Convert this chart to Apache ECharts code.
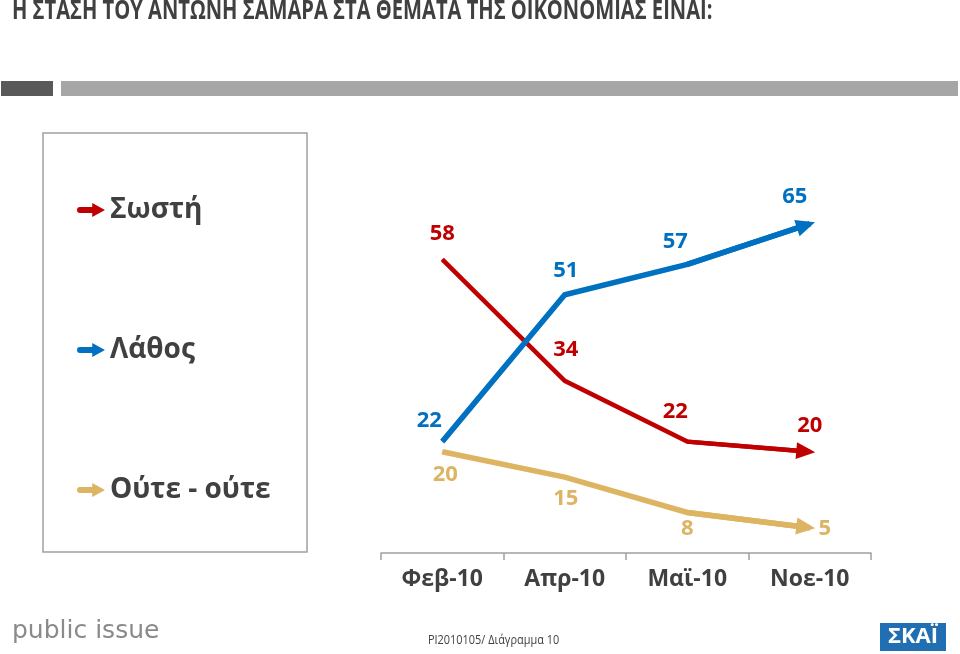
<!DOCTYPE html>
<html>
<head>
<meta charset="utf-8">
<script src="https://cdn.jsdelivr.net/npm/echarts@6/dist/echarts.min.js"></script>
<style>html,body{margin:0;padding:0;background:#fff}#c{width:960px;height:654px}</style>
</head>
<body>
<div id="c"></div>
<script>
const categories = ['Φεβ-10', 'Απρ-10', 'Μαϊ-10', 'Νοε-10'];
const seriesNames = ['Σωστή', 'Λάθος', 'Ούτε - ούτε'];
const correct = [58, 34, 22, 20];
const wrong = [22, 51, 57, 65];
const neither = [20, 15, 8, 5];
const titleText = 'Η ΣΤΑΣΗ ΤΟΥ ΑΝΤΩΝΗ ΣΑΜΑΡΑ ΣΤΑ ΘΕΜΑΤΑ ΤΗΣ ΟΙΚΟΝΟΜΙΑΣ ΕΙΝΑΙ:';
const footerText = 'PI2010105/ Διάγραμμα 10';

const colors = ['#C00000', '#0070C0', '#DDB462'];
const widths = [4.5, 5.5, 5.5];
// label offsets (styling) relative to point
const labelOffsets = [
  [[0, -26], [1, -31], [-12, -30], [0, -26]],
  [[-13, -21], [1, -24], [-12, -23], [-15, -27]],
  [[3, 23], [1, 22], [0, 16], [15, 1]]
];
const FONT = 'Open Sans';
const arrowIcon = 'path://M2.5,4 L15,4 L15,0 L28,7 L15,14 L15,10 L2.5,10 A3,3 0 0 1 2.5,4 Z';
const headPath = 'path://M10,0 L20,20 L0,20 Z';

const values = [correct, wrong, neither];
const series = values.map((arr, si) => ({
  name: seriesNames[si],
  type: 'line',
  data: arr.map((v, i) => ({
    value: v,
    label: { offset: labelOffsets[si][i] }
  })),
  symbol: 'circle',
  symbolSize: 1,
  showSymbol: true,
  lineStyle: { color: colors[si], width: widths[si], cap: 'butt', join: 'miter' },
  itemStyle: { color: colors[si] },
  label: {
    show: true, position: 'inside',
    color: colors[si], fontFamily: FONT, fontWeight: 'bold', fontSize: 22
  },
  emphasis: { disabled: true },
  animation: false,
  markLine: {
    silent: true,
    animation: false,
    symbol: ['none', headPath],
    symbolSize: [17, 19],
    symbolKeepAspect: false,
    symbolOffset: [0, [0, 4]],
    label: { show: false },
    lineStyle: { color: colors[si], width: widths[si], type: 'solid' },
    data: [[
      { coord: [categories[2], arr[2]] },
      { coord: [categories[3], arr[3]] }
    ]]
  }
}));

const chart = echarts.init(document.getElementById('c'), null, { renderer: 'canvas' });
chart.setOption({
  backgroundColor: '#fff',
  animation: false,
  color: colors,
  grid: { left: 381, width: 490, top: 148, height: 405 },
  xAxis: {
    type: 'category',
    data: categories,
    boundaryGap: true,
    axisLine: { lineStyle: { color: '#A0A0A0', width: 1.5 } },
    axisTick: { show: true, length: 7, lineStyle: { color: '#A0A0A0', width: 1.5 } },
    axisLabel: { color: '#404040', fontFamily: FONT, fontWeight: 'bold', fontSize: 23, margin: 15 }
  },
  yAxis: { type: 'value', min: 0, max: 80, show: false, splitLine: { show: false } },
  legend: {
    orient: 'vertical',
    left: 72, top: 187,
    icon: arrowIcon,
    itemWidth: 28, itemHeight: 14,
    itemGap: 104,
    selectedMode: false,
    textStyle: { color: '#404040', fontFamily: FONT, fontWeight: 'bold', fontSize: 28, lineHeight: 36 },
    data: seriesNames
  },
  series: series,
  graphic: [
    { type: 'text', x: 12, y: -2, scaleX: 0.745, style: { text: titleText, fill: '#404040', font: 'bold 27px "Open Sans"' } },
    { type: 'rect', shape: { x: 1, y: 81, width: 52, height: 15 }, style: { fill: '#595959' } },
    { type: 'rect', shape: { x: 61, y: 81, width: 897, height: 15 }, style: { fill: '#A6A6A6' } },
    { type: 'rect', shape: { x: 43, y: 133, width: 264, height: 419 }, style: { fill: 'none', stroke: '#A0A0A0', lineWidth: 1.5 } },
    { type: 'text', x: 12, y: 619, style: { text: 'public issue', fill: '#8A8A8A', font: '25px "DejaVu Sans"' } },
    { type: 'text', x: 428, y: 634, scaleX: 0.84, style: { text: footerText, fill: '#404040', font: '13px "Open Sans"' } },
    { type: 'rect', shape: { x: 880, y: 623, width: 66, height: 28 }, style: { fill: '#1F6FB2' } },
    { type: 'text', x: 913, y: 637, style: { text: 'ΣΚΑΪ', fill: '#fff', font: 'bold 22px "Open Sans"', align: 'center', verticalAlign: 'middle' } }
  ]
});
</script>
</body>
</html>
